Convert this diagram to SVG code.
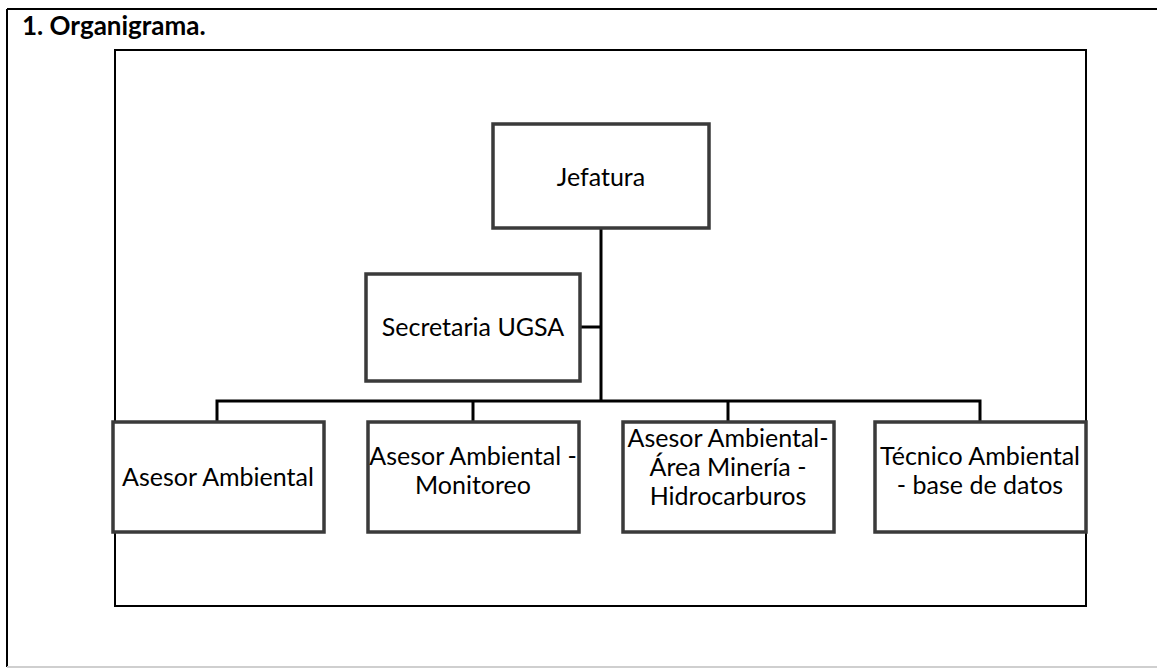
<svg xmlns="http://www.w3.org/2000/svg" width="1157" height="669" viewBox="0 0 1157 669">
<style>
.frame{fill:none;stroke:#000;stroke-width:2}
.node{fill:#fff;stroke:#3a3a3a;stroke-width:3.5}
.conn{fill:none;stroke:#000;stroke-width:3}
.lbl{font-family:Lato,"Liberation Sans",sans-serif;font-size:25px;fill:#000;text-anchor:middle}
.title{font-family:Lato,"Liberation Sans",sans-serif;font-size:26px;font-weight:bold;fill:#000}
</style>
<rect width="1157" height="669" fill="#fff"/>
<g id="page-frame">
<path class="frame" d="M7,9 H1157 M7,9 V667"/>
<line x1="7" y1="667" x2="1157" y2="667" stroke="#cfcfcf" stroke-width="2"/>
<text class="title" x="22" y="35">1. Organigrama.</text>
</g>
<rect id="chart-frame" class="frame" x="115" y="50" width="971" height="556"/>
<g id="connectors">
<path class="conn" d="M601,228 V401"/>
<path class="conn" d="M580,327 H601"/>
<path class="conn" d="M217,422 V401 H980 V422"/>
<path class="conn" d="M473,401 V422"/>
<path class="conn" d="M728,401 V422"/>
</g>
<g id="jefatura">
<rect class="node" x="493" y="124" width="216" height="104"/>
<text class="lbl" x="601" y="186">Jefatura</text>
</g>
<g id="secretaria">
<rect class="node" x="366" y="274" width="214" height="107"/>
<text class="lbl" x="473" y="336">Secretaria UGSA</text>
</g>
<g id="asesor-ambiental">
<rect class="node" x="113" y="422" width="211" height="110"/>
<text class="lbl" x="218" y="486">Asesor Ambiental</text>
</g>
<g id="asesor-monitoreo">
<rect class="node" x="368" y="422" width="211" height="110"/>
<text class="lbl" x="473" y="465">Asesor Ambiental -</text>
<text class="lbl" x="473" y="494">Monitoreo</text>
</g>
<g id="asesor-mineria">
<rect class="node" x="623" y="422" width="211" height="110"/>
<text class="lbl" x="728" y="447">Asesor Ambiental-</text>
<text class="lbl" x="728" y="476">Área Minería -</text>
<text class="lbl" x="728" y="505">Hidrocarburos</text>
</g>
<g id="tecnico-ambiental">
<rect class="node" x="875" y="422" width="211" height="110"/>
<text class="lbl" x="980" y="465">Técnico Ambiental</text>
<text class="lbl" x="980" y="494">- base de datos</text>
</g>
</svg>
